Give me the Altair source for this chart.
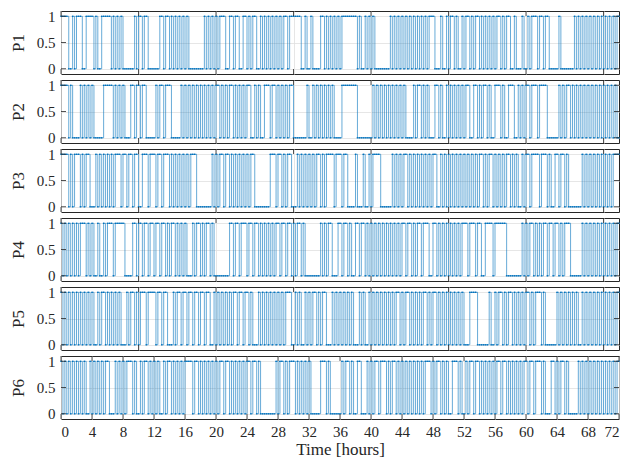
import altair as alt
import pandas as pd

# 15-minute on/off states, written as 4-hour blocks (16 samples each)
p1 = ["1111 0010 1110 0111", "1010 0111 1101 0101", "0000 0010 1101 1000", "0001 1011 0101 0101",
      "0100 0000 0010 1010", "1011 1001 1011 0011", "0101 1001 0101 0101", "0101 1011 1111 0010",
      "0100 0011 0101 0101", "0111 1111 1010 0101", "0100 0000 0010 1010", "1010 1010 1010 1011",
      "1000 1001 0110 1001", "0110 1011 0101 0101", "0110 1011 0010 0010", "0101 1101 1011 0000",
      "0100 0000 0101 0101", "0101 0101 0101 0101"]
p2 = ["1111 0100 0010 1010", "1000 0011 1110 1010", "1000 1101 1011 0000", "0101 1011 1000 0010",
      "1010 1010 1010 1010", "1101 0101 1010 1010", "1100 1010 0111 0110", "1010 1011 0000 0001",
      "0010 1010 1010 1000", "0111 1111 1000 0000", "0101 0101 0101 0101", "0100 0010 1101 0100",
      "0110 1001 0101 0101", "0110 0110 1011 0100", "1110 1001 1100 1010", "1101 1101 1110 0000",
      "0101 0110 1010 1010", "1010 1010 1010 1010"]
p3 = ["1111 0101 1101 0110", "0010 1010 1010 1110", "1101 1011 0011 1011", "1011 0111 0101 0101",
      "0101 1100 0000 0010", "1011 0110 1010 1010", "1011 0000 0000 1110", "1101 0110 0010 1010",
      "1010 1101 0111 1011", "1011 0000 1000 1001", "0111 1000 0001 0101", "0110 1010 1010 1010",
      "1100 1010 1010 1010", "1010 1010 1101 0110", "1010 1011 0101 0010", "1101 1110 1110 1001",
      "1011 0100 0000 0101", "0101 0101 0101 0111"]
p4 = ["1010 1010 1011 1010", "1001 0010 1110 1111", "1000 0110 1101 1011", "0110 1101 0110 1010",
      "1000 1011 0101 1010", "0000 0001 1011 0111", "0110 1101 0101 0101", "1011 0110 1011 0100",
      "0000 0010 1011 0001", "1011 0100 1101 1010", "1010 1010 1010 1010", "1101 1010 1101 1100",
      "1101 0101 0101 0101", "1101 1101 1001 1110", "1111 1100 0000 0010", "1011 0101 0110 1101",
      "1010 1110 0000 0101", "0101 0101 0101 0101"]
p5 = ["1010 1010 1010 1010", "1001 0110 1010 1010", "0010 1101 0111 0111", "1011 0110 0010 1101",
      "1011 0110 1101 1001", "0101 0101 0110 1101", "1010 0010 1010 1010", "1010 1110 0101 0010",
      "1011 0101 1000 1010", "1010 1010 0010 1001", "0101 0101 0101 0110", "1011 0101 0101 1010",
      "1101 0101 0101 0101", "0001 1110 0000 0100", "1011 0101 1010 1010", "1101 0111 0100 0000",
      "1010 1010 1010 0101", "0101 0101 0101 0101"]
p6 = ["1010 1010 1010 1001", "0101 0101 1000 1010", "1011 1010 0101 1010", "1010 0101 1010 1010",
      "1111 0110 1010 1010", "1011 0110 1010 1010", "1101 1010 0000 0001", "0110 1011 1010 1010",
      "1000 0011 1010 0000", "0101 1010 0110 0010", "1011 0111 0101 1010", "1010 1010 1010 1110",
      "1011 0101 0011 1010", "0101 1011 0101 0101", "0110 1101 0101 0101", "1011 0111 0100 0110",
      "1011 0100 0001 0101", "0101 0101 0101 0101"]

names = ["P1", "P2", "P3", "P4", "P5", "P6"]
series = [p1, p2, p3, p4, p5, p6]
step_h = 0.25
t_end = 72
x_ticks_upper = [0, 10, 20, 30, 40, 50, 60, 70]
x_ticks_bottom = [0, 4, 8, 12, 16, 20, 24, 28, 32, 36, 40, 44, 48, 52, 56, 60, 64, 68, 72]
y_ticks = [0, 0.5, 1]

W, H = 558, 63
TL = 5
BLUE = "#0072BD"
FRAME = "#262626"
FONT = "Liberation Serif"


def to_df(blocks):
    s = "".join(blocks).replace(" ", "")
    vals = [int(c) for c in s]
    t = [i * step_h for i in range(len(vals))] + [t_end]
    v = vals + [vals[-1]]
    return pd.DataFrame({"t": t, "v": v})


xscale = alt.Scale(domain=[0, 72], nice=False, zero=False)
yscale = alt.Scale(domain=[-0.1, 1.1], nice=False, zero=False)

panels = []
for k, (name, blocks) in enumerate(zip(names, series)):
    bottom = k == len(names) - 1
    xt = x_ticks_bottom if bottom else x_ticks_upper
    if bottom:
        xaxis = alt.Axis(values=xt, labels=True, ticks=False, domain=False, grid=True,
                         title="Time [hours]", format="d", labelPadding=5, titlePadding=2,
                         labelFont=FONT, labelFontSize=15, titleFont=FONT, titleFontSize=17,
                         titleFontWeight="normal", labelColor=FRAME, titleColor=FRAME)
    else:
        xaxis = alt.Axis(values=xt, labels=False, ticks=False, domain=False, grid=True, title=None)
    yaxis = alt.Axis(values=y_ticks, format="~g", ticks=False, domain=False, grid=True,
                     title=name, labelPadding=6, titlePadding=9,
                     labelFont=FONT, labelFontSize=15, titleFont=FONT, titleFontSize=17,
                     titleFontWeight="normal", labelColor=FRAME, titleColor=FRAME)
    X = alt.X("t:Q", scale=xscale, axis=xaxis)
    Y = alt.Y("v:Q", scale=yscale, axis=yaxis)

    df = to_df(blocks)
    line = alt.Chart(df).mark_line(interpolate="step-after", color=BLUE, strokeWidth=0.6).encode(x=X, y=Y)
    pts = alt.Chart(df).mark_point(filled=True, size=3, color=BLUE, opacity=1).encode(x=X, y=Y)

    xt_df = pd.DataFrame({"t": xt})
    yt_df = pd.DataFrame({"v": y_ticks})
    xt_top = alt.Chart(xt_df).mark_rule(color=FRAME, strokeWidth=0.8).encode(
        x=X, y=alt.value(0), y2=alt.value(TL))
    xt_bot = alt.Chart(xt_df).mark_rule(color=FRAME, strokeWidth=0.8).encode(
        x=X, y=alt.value(H - TL), y2=alt.value(H))
    yt_l = alt.Chart(yt_df).mark_rule(color=FRAME, strokeWidth=0.8).encode(
        y=Y, x=alt.value(0), x2=alt.value(TL))
    yt_r = alt.Chart(yt_df).mark_rule(color=FRAME, strokeWidth=0.8).encode(
        y=Y, x=alt.value(W - TL), x2=alt.value(W))

    panels.append(alt.layer(line, pts, xt_top, xt_bot, yt_l, yt_r).properties(width=W, height=H))

chart = alt.vconcat(*panels, spacing=6, bounds="flush", background="white", padding=0).configure_view(
    stroke=FRAME, strokeWidth=1
).configure_axis(
    gridColor="#dfdfdf", gridWidth=0.8
)

chart.save("out.html", embed_options={"renderer": "svg", "actions": False})
